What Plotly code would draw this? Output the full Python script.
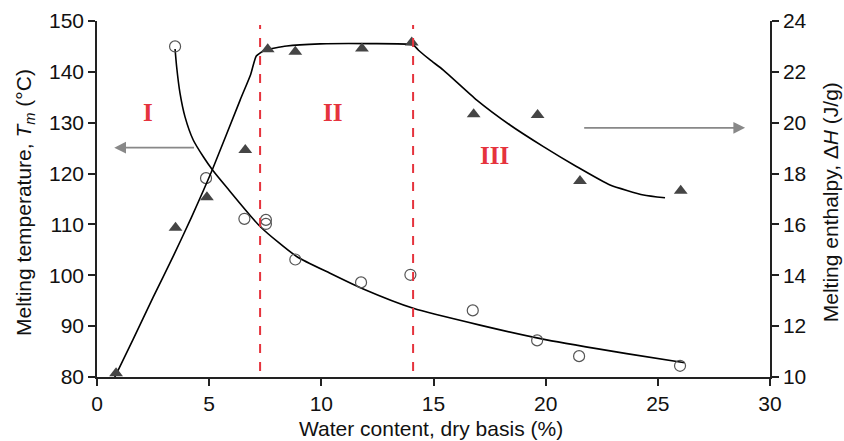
import plotly.graph_objects as go

# Melting temperature (circles, left axis)
tm_x = [3.48, 4.86, 6.57, 7.53, 7.53, 8.84, 11.77, 13.97, 16.75, 19.62, 21.49, 25.99]
tm_y = [145.0, 119.1, 111.1, 110.9, 110.1, 103.1, 98.6, 100.1, 93.1, 87.2, 84.1, 82.2]
# Fitted Tm curve
tm_fit_x = [3.48, 3.55, 3.7, 3.92, 4.29, 4.74, 5.15, 5.78, 7.27, 8.9, 10.39, 11.87, 14.1, 17.07, 20.04, 23.61, 26.2]
tm_fit_y = [144.5, 141.0, 135.8, 131.2, 126.6, 123.3, 120.7, 117.3, 109.6, 103.7, 100.4, 97.3, 93.5, 90.2, 87.3, 84.6, 82.8]

# Melting enthalpy (triangles, right axis)
dh_x = [0.85, 3.5, 4.9, 6.61, 7.61, 8.84, 11.81, 14.03, 16.79, 19.64, 21.53, 26.02]
dh_y = [10.15, 15.87, 17.07, 18.93, 22.89, 22.79, 22.92, 23.15, 20.33, 20.30, 17.71, 17.32]
# Fitted ΔH curve
dh_fit_x = [0.73, 1.62, 2.51, 3.4, 4.22, 5.14, 6.38, 6.85, 7.1, 7.45, 8.46, 9.94, 12.17, 14.1, 14.32,
            14.85, 15.44, 16.93, 18.41, 19.9, 21.39, 22.87, 24.36, 25.32]
dh_fit_y = [9.88, 11.5, 13.15, 14.75, 16.3, 18.15, 20.89, 21.9, 22.62, 22.84, 23.02, 23.1, 23.11, 23.06, 22.86,
            22.47, 22.07, 20.89, 19.91, 19.06, 18.27, 17.55, 17.16, 17.05]

region_x = [7.27, 14.09]
region_labels = ["I", "II", "III"]
region_label_x = [2.27, 10.48, 17.7]
region_label_y = [132.1, 132.1, 123.6]

x_ticks = [0, 5, 10, 15, 20, 25, 30]
y_left_ticks = [80, 90, 100, 110, 120, 130, 140, 150]
y_right_ticks = [10, 12, 14, 16, 18, 20, 22, 24]

FONT = "Liberation Sans, Arial, sans-serif"
RED = "#e5333d"
TXT = "#111111"

fig = go.Figure()
fig.add_trace(go.Scatter(x=tm_fit_x, y=tm_fit_y, mode="lines",
                         line=dict(color="black", width=1.6, shape="spline", smoothing=0.6),
                         yaxis="y", hoverinfo="skip"))
fig.add_trace(go.Scatter(x=tm_x, y=tm_y, mode="markers", cliponaxis=False,
                         marker=dict(symbol="circle-open", size=11, color="#555555", line=dict(width=1.2)), yaxis="y"))
fig.add_trace(go.Scatter(x=dh_fit_x, y=dh_fit_y, mode="lines",
                         line=dict(color="black", width=1.6, shape="spline", smoothing=0.5),
                         yaxis="y2", hoverinfo="skip"))
fig.add_trace(go.Scatter(x=dh_x, y=dh_y, mode="markers", cliponaxis=False,
                         marker=dict(symbol="triangle-up", size=12, color="#454545"), yaxis="y2"))

shapes = []
for rx in region_x:
    shapes.append(dict(type="line", xref="x", yref="y", x0=rx, x1=rx, y0=81.2, y1=149.2,
                       line=dict(color=RED, width=2, dash="dash")))

annotations = []
for t, lx, ly in zip(region_labels, region_label_x, region_label_y):
    annotations.append(dict(x=lx, y=ly, xref="x", yref="y", text=f"<b>{t}</b>", showarrow=False,
                            font=dict(family="Liberation Serif, Times New Roman, serif", size=25, color=RED)))
# arrows
annotations.append(dict(x=0.77, y=125.1, ax=4.39, ay=125.1, xref="x", yref="y", axref="x", ayref="y",
                        text="", showarrow=True, arrowhead=2, arrowsize=1.3, arrowwidth=1.8, arrowcolor="#888888"))
annotations.append(dict(x=28.89, y=129.0, ax=21.65, ay=129.0, xref="x", yref="y", axref="x", ayref="y",
                        text="", showarrow=True, arrowhead=2, arrowsize=1.3, arrowwidth=1.8, arrowcolor="#888888"))
# axis titles
annotations.append(dict(x=0.497, y=-0.146, xref="paper", yref="paper", showarrow=False,
                        xanchor="center", yanchor="middle",
                        text="Water content, dry basis (%)", font=dict(family=FONT, size=21, color=TXT)))
annotations.append(dict(x=-0.107, y=0.4916, xref="paper", yref="paper", showarrow=False, textangle=-90,
                        xanchor="center", yanchor="middle",
                        text="Melting temperature, <i>T</i><sub><i>m</i></sub> (°C)",
                        font=dict(family=FONT, size=21, color=TXT)))
annotations.append(dict(x=1.091, y=0.4916, xref="paper", yref="paper", showarrow=False, textangle=-90,
                        xanchor="center", yanchor="middle",
                        text="Melting enthalpy, Δ<i>H</i> (J/g)", font=dict(family=FONT, size=21, color=TXT)))

axis_common = dict(showgrid=False, zeroline=False, showline=True, linecolor="#222222", linewidth=1.5,
                   ticks="outside", ticklen=7, tickwidth=1.5, tickcolor="#222222", automargin=False,
                   tickfont=dict(family=FONT, size=21, color=TXT))

fig.update_layout(
    width=844, height=441,
    margin=dict(l=97, r=74, t=21, b=64),
    plot_bgcolor="white", paper_bgcolor="white",
    showlegend=False,
    font=dict(family=FONT, color=TXT),
    xaxis=dict(range=[0, 30], tickvals=x_ticks, **axis_common),
    yaxis=dict(range=[80, 150], tickvals=y_left_ticks, **axis_common),
    yaxis2=dict(range=[10, 24], tickvals=y_right_ticks, overlaying="y", side="right", anchor="x", **axis_common),
    yaxis3=dict(range=[10, 24], tickvals=y_right_ticks, overlaying="y", side="right", anchor="x",
                showgrid=False, zeroline=False, showline=False, ticks="inside", ticklen=6, tickwidth=1.5,
                tickcolor="#222222", showticklabels=False, automargin=False),
    shapes=shapes,
    annotations=annotations,
)

fig.write_html("out.html", config={"displayModeBar": False},
               post_script="document.body.style.margin='0';document.body.style.overflow='hidden';")
